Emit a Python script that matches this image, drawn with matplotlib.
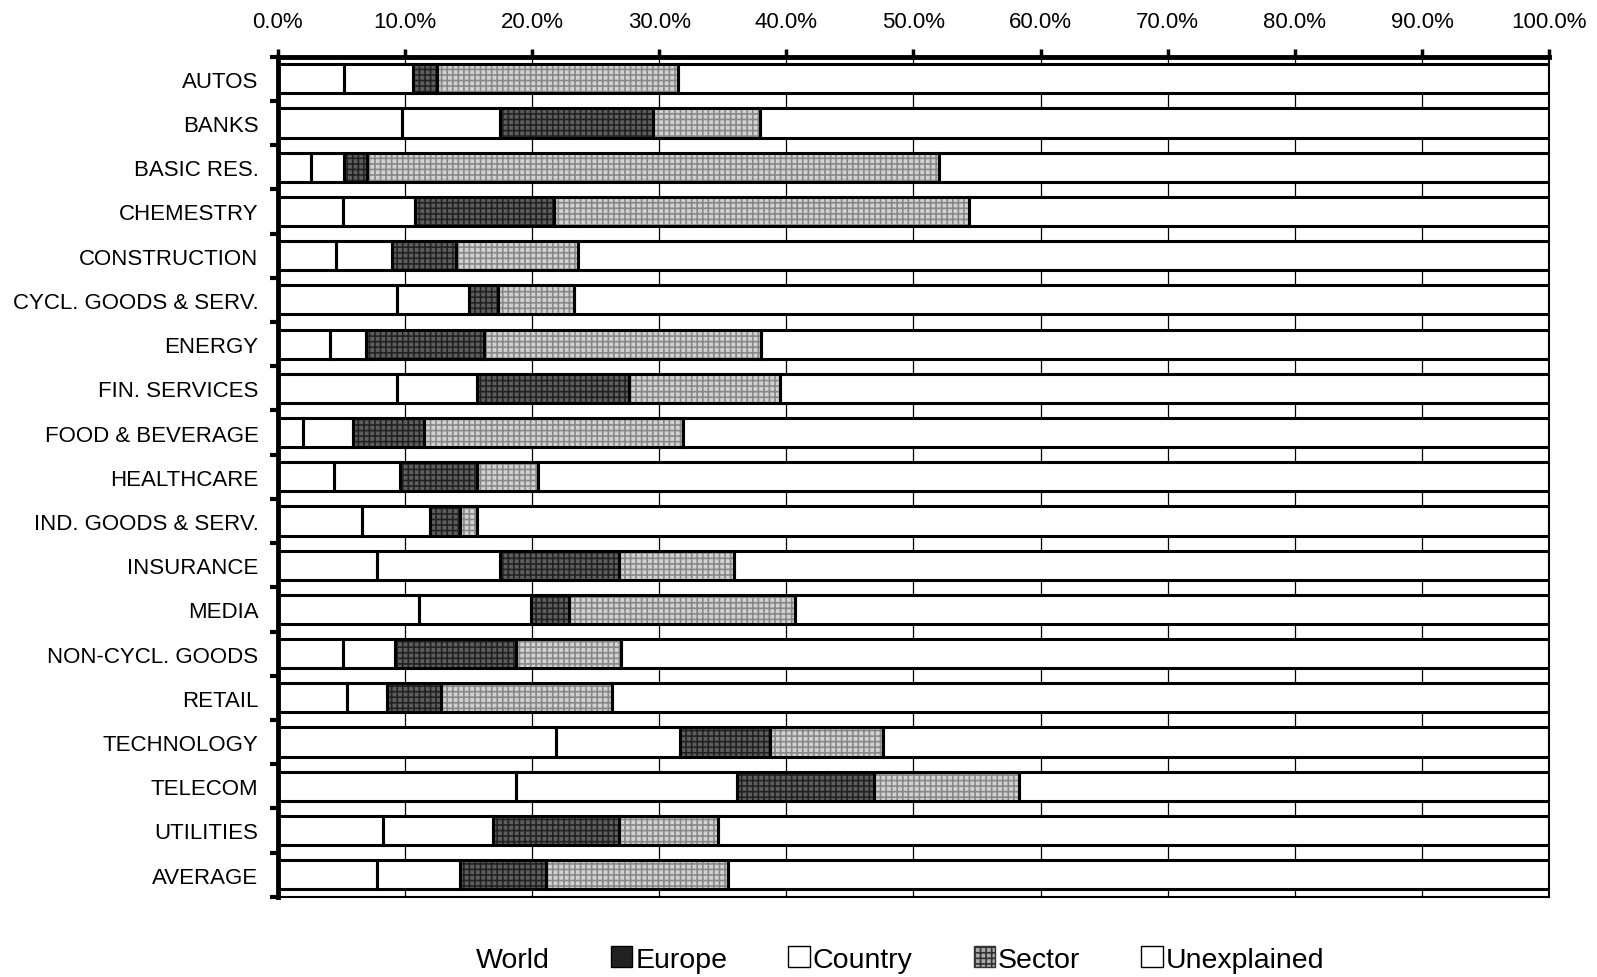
import matplotlib
matplotlib.use('Agg')
import matplotlib.pyplot as plt
from matplotlib.patches import Patch
from matplotlib.ticker import FuncFormatter, MultipleLocator
import numpy as np

plt.rcParams['font.family'] = ['Liberation Sans', 'DejaVu Sans']
plt.rcParams['hatch.linewidth'] = 1.2

sectors = ['AUTOS', 'BANKS', 'BASIC RES.', 'CHEMESTRY', 'CONSTRUCTION',
           'CYCL. GOODS & SERV.', 'ENERGY', 'FIN. SERVICES', 'FOOD & BEVERAGE',
           'HEALTHCARE', 'IND. GOODS & SERV.', 'INSURANCE', 'MEDIA',
           'NON-CYCL. GOODS', 'RETAIL', 'TECHNOLOGY', 'TELECOM', 'UTILITIES',
           'AVERAGE']

# cumulative boundaries (% of variance)
end_world   = [5.2, 9.8, 2.6, 5.1, 4.6, 9.4, 4.1, 9.4, 2.0, 4.4, 6.6, 7.8, 11.1, 5.1, 5.4, 21.9, 18.7, 8.3, 7.8]
end_country = [10.6, 17.5, 5.2, 10.8, 9.0, 15.0, 6.9, 15.7, 5.9, 9.6, 12.0, 17.5, 19.9, 9.2, 8.6, 31.6, 36.1, 16.9, 14.3]
end_europe  = [12.5, 29.5, 7.0, 21.7, 14.0, 17.3, 16.2, 27.6, 11.5, 15.7, 14.3, 26.8, 22.9, 18.7, 12.8, 38.7, 46.9, 26.8, 21.1]
end_sector  = [31.5, 37.9, 52.0, 54.4, 23.6, 23.3, 38.0, 39.5, 31.9, 20.5, 15.7, 35.9, 40.7, 27.0, 26.3, 47.6, 58.3, 34.6, 35.4]

world = np.array(end_world)
country = np.array(end_country) - np.array(end_world)
europe = np.array(end_europe) - np.array(end_country)
sector = np.array(end_sector) - np.array(end_europe)
unexplained = 100.0 - np.array(end_sector)

fig = plt.figure(figsize=(15.97, 9.78), dpi=100)
ax = fig.add_axes([0.174, 0.082, 0.796, 0.859])

y = np.arange(len(sectors))
h = 0.66

## (values, face, hatch, hatch colour)
segs = [(world, 'white', None, None),
        (country, 'white', None, None),
        (europe, '#5e5e5e', '+++', '#222222'),
        (sector, '#d2d2d2', '+++', '#888888'),
        (unexplained, 'white', None, None)]

left = np.zeros(len(sectors))
for vals, face, hatch, hcol in segs:
    if hatch:
        ax.barh(y, vals, h, left=left, color=face, hatch=hatch,
                edgecolor=hcol, linewidth=0, zorder=2)
    else:
        ax.barh(y, vals, h, left=left, color=face, linewidth=0, zorder=2)
    ax.barh(y, vals, h, left=left, fill=False, edgecolor='black',
            linewidth=2.2, zorder=3)
    left += vals

ax.set_xlim(0, 100)
ax.set_ylim(len(sectors) - 0.5, -0.5)

ax.xaxis.tick_top()
ax.xaxis.set_major_locator(MultipleLocator(10))
ax.xaxis.set_major_formatter(FuncFormatter(lambda v, p: '%.1f%%' % v))
ax.tick_params(axis='x', which='major', length=6, width=2.5, labelsize=16, pad=12)
ax.grid(axis='x', color='black', linewidth=0.9, zorder=0)

ax.set_yticks(y)
ax.set_yticklabels(sectors)
ax.set_yticks(np.arange(len(sectors) + 1) - 0.5, minor=True)
ax.tick_params(axis='y', which='major', length=0, labelsize=16, pad=14)
ax.tick_params(axis='y', which='minor', length=6, width=3)

for s in ['top', 'left']:
    ax.spines[s].set_linewidth(3.5)
for s in ['bottom', 'right']:
    ax.spines[s].set_linewidth(1.5)

## legend (World has no visible box in the original)
handles = [Patch(facecolor='white', edgecolor='white', label='World'),
           Patch(facecolor='#222222', edgecolor='black', label='Europe'),
           Patch(facecolor='white', edgecolor='black', label='Country'),
           Patch(facecolor='#aaaaaa', edgecolor='#333333', hatch='+++', label='Sector'),
           Patch(facecolor='white', edgecolor='black', label='Unexplained')]
fig.legend(handles=handles, loc='center', bbox_to_anchor=(0.556, 0.018), ncol=5,
           frameon=False, fontsize=20.5, handlelength=0.75, handleheight=0.75,
           handletextpad=0.1, columnspacing=2.15)

plt.savefig('out.png', dpi=100)
